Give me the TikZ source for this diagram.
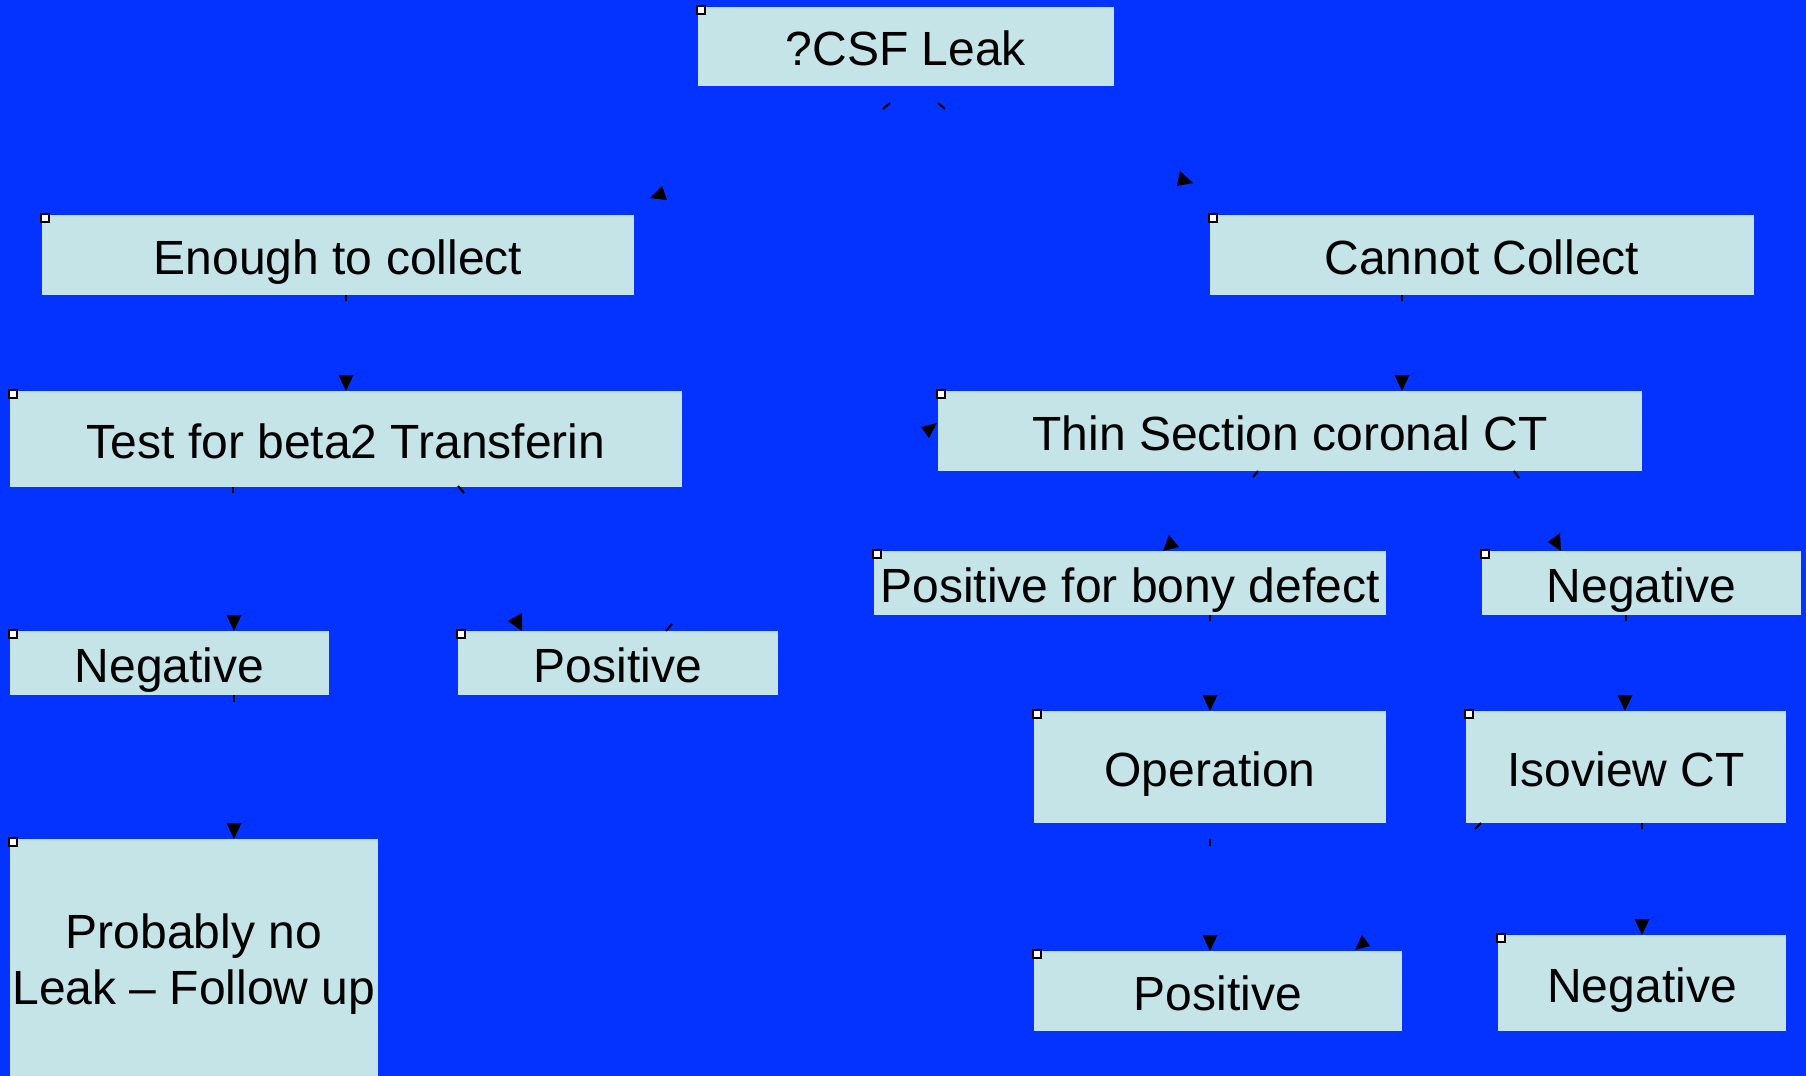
\documentclass[tikz,border=0pt]{standalone}
\usepackage{fontspec}
\setmainfont{Liberation Sans}
\definecolor{bgblue}{RGB}{4,51,255}
\definecolor{boxc}{RGB}{196,228,232}
\newcommand\mybox[6]{%
  \node[box, minimum width={(#4-#2)*0.5pt}, minimum height={(#5-#3)*0.5pt}] (#1) at ({(#2+#4)/2},{(#3+#5)/2}) {#6};
  \draw[handle] ({#2-1},{#3-1}) rectangle ({#2+7},{#3+7});
}
\newcommand\vhead[2]{\fill[head] ({#1-7.5},{#2-16}) -- ({#1+7.5},{#2-16}) -- (#1,#2) -- cycle;}
\begin{document}
\begin{tikzpicture}[x=0.5pt,y=-0.5pt,
  box/.style={fill=boxc, inner sep=0pt, outer sep=0pt, text height=19pt, text depth=0pt,
    font=\fontsize{24}{28}\selectfont, align=center},
  handle/.style={draw=black, fill=white, line width=0.9pt},
  tickmark/.style={draw=black, line width=1pt},
  head/.style={fill=black},
  link/.style={draw=bgblue, line width=1pt}]
\useasboundingbox (0,0) rectangle (1806,1076);
\fill[bgblue] (0,0) rectangle (1806,1076);
\clip (0,0) rectangle (1806,1076);

% connector end points
\coordinate (s1) at (883,109);   \coordinate (h1) at (662,194);
\coordinate (s2) at (945,109);   \coordinate (h2) at (1183,180);
\coordinate (s3) at (346,295);   \coordinate (h3) at (346,391);
\coordinate (s4) at (1402,295);  \coordinate (h4) at (1402,391);
\coordinate (s5) at (233,487);   \coordinate (h5) at (234,631);
\coordinate (s6) at (458,486);   \coordinate (h6) at (517,622);
\coordinate (s7) at (672,624);   \coordinate (h7) at (929,431);
\coordinate (s8) at (234,695);   \coordinate (h8) at (234,839);
\coordinate (s9) at (1258,471);  \coordinate (h9) at (1170,545);
\coordinate (s10) at (1514,471); \coordinate (h10) at (1556,542);
\coordinate (s11) at (1210,615); \coordinate (h11) at (1210,711);
\coordinate (s12) at (1626,615); \coordinate (h12) at (1625,711);
\coordinate (s13) at (1481,823); \coordinate (h13) at (1362,944);
\coordinate (s14) at (1642,823); \coordinate (h14) at (1642,935);
\coordinate (s15) at (1210,839); \coordinate (h15) at (1210,951);

% invisible connector lines (same colour as the background)
\foreach \i in {1,...,15} { \draw[link] (s\i) -- (h\i); }

% boxes
\mybox{csf}{698}{7}{1114}{86}{?CSF Leak}
\mybox{enough}{42}{215}{634}{295}{Enough to collect}
\mybox{cannot}{1210}{215}{1754}{295}{Cannot Collect}
\mybox{test}{10}{391}{682}{487}{Test for beta2 Transferin}
\mybox{thin}{938}{391}{1642}{471}{Thin Section coronal CT}
\mybox{negL}{10}{631}{329}{695}{Negative}
\mybox{posL}{458}{631}{778}{695}{Positive}
\mybox{bony}{874}{551}{1386}{615}{Positive for bony defect}
\mybox{negR}{1482}{551}{1801}{615}{Negative}
\mybox{oper}{1034}{711}{1386}{823}{Operation}
\mybox{iso}{1466}{711}{1786}{823}{Isoview CT}
\mybox{posB}{1034}{951}{1402}{1031}{Positive}
\mybox{negB}{1498}{935}{1786}{1031}{Negative}
\node[box, text height=, text depth=, minimum width={368*0.5pt}, minimum height={250*0.5pt}] (prob) at (194,964) {Probably no\\Leak -- Follow up};
\draw[handle] (9,838) rectangle (17,846);

% start ticks
\draw[tickmark] (s1) -- (890,103);
\draw[tickmark] (938,103) -- (s2);
\draw[tickmark] (s3) -- (346,301);
\draw[tickmark] (s4) -- (1402,301);
\draw[tickmark] (s5) -- (233,493);
\draw[tickmark] (s6) -- (464,493);
\draw[tickmark] (666,631) -- (s7);
\draw[tickmark] (s8) -- (234,702);
\draw[tickmark] (1253,477) -- (s9);
\draw[tickmark] (s10) -- (1519,478);
\draw[tickmark] (s11) -- (1210,621);
\draw[tickmark] (s12) -- (1626,621);
\draw[tickmark] (1475,829) -- (s13);
\draw[tickmark] (s14) -- (1642,829);
\draw[tickmark] (s15) -- (1210,846);

% arrow heads
\fill[head] (650,198) -- (662,186) -- (667,200) -- cycle;
\fill[head] (1177,186) -- (1180,171) -- (1193,183) -- cycle;
\vhead{346}{391}
\vhead{1402}{391}
\vhead{234}{631}
\fill[head] (508,621) -- (522,613) -- (522,631) -- cycle;
\fill[head] (921,427) -- (937,423) -- (929,438) -- cycle;
\vhead{234}{839}
\fill[head] (1163,551) -- (1169,535) -- (1179,547) -- cycle;
\fill[head] (1548,542) -- (1560,533) -- (1561,551) -- cycle;
\vhead{1210}{711}
\vhead{1625}{711}
\fill[head] (1355,950) -- (1362,935) -- (1370,946) -- cycle;
\vhead{1642}{935}
\vhead{1210}{951}
\end{tikzpicture}
\end{document}
